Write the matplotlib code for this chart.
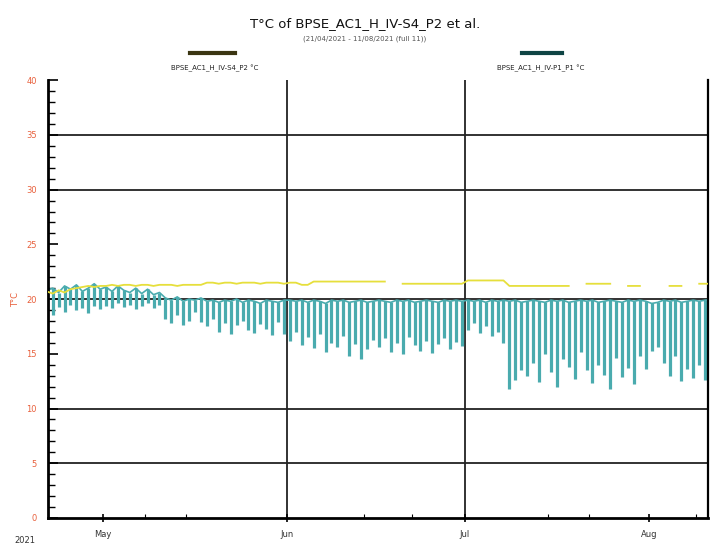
import numpy as np
import pandas as pd
import matplotlib
matplotlib.use("Agg")
import matplotlib.pyplot as plt
from matplotlib.lines import Line2D

# daily values, 21 Apr 2021 -> 11 Aug 2021
jours = pd.date_range("2021-04-21", "2021-08-11", freq="D")

teal_min = [
    19.0, 18.5, 19.3, 18.8, 19.5, 19.0, 19.2, 18.7, 19.4, 19.1,            # Apr 21-30
    19.4, 19.2, 19.6, 19.3, 19.5, 19.1, 19.4, 19.6, 19.2, 19.5,            # May 1-10
    18.2, 17.8, 18.5, 17.6, 18.0, 18.8, 17.9,                              # May 11-17
    17.5, 18.2, 17.0, 17.8, 16.8, 17.6, 18.0, 17.2, 16.9, 17.7, 17.3, 16.7, 17.9, 16.8,  # May 18-31
    16.2, 17.0, 15.8, 16.5, 15.5, 16.8, 15.2, 16.0, 15.6, 16.6, 14.8, 15.9, 14.5, 15.4, 16.3,  # Jun 1-15
    15.6, 16.4, 15.2, 16.0, 15.0, 16.5, 15.8, 15.3, 16.2, 15.1, 15.9, 16.4, 15.4, 16.1, 15.7,  # Jun 16-30
    17.2, 17.8, 16.9, 17.5, 16.6, 17.0, 16.0, 11.8, 12.6, 13.5,            # Jul 1-10
    13.0, 14.2, 12.4, 15.0, 13.3, 12.0, 14.5, 13.8, 12.7, 15.2, 13.5,
    12.3, 14.0, 13.1, 11.8, 14.6, 12.9, 13.7, 12.2, 14.8, 13.6,            # Jul 11-31
    15.3, 15.6, 14.2, 13.0, 14.8, 12.5, 13.6, 12.8, 14.0, 12.6, 13.4,      # Aug 1-11
]
teal_max = [
    20.8, 21.0, 20.6, 21.2, 20.9, 21.3, 20.7, 21.0, 21.4, 20.9,
    21.1, 20.7, 21.2, 20.8, 20.6, 21.0, 20.5, 20.9, 20.4, 20.6,
    20.1, 19.9, 20.2, 19.8, 20.0, 19.9, 20.1,
    19.8, 19.9, 19.7, 19.9, 19.8, 20.0, 19.7, 19.9, 19.8, 19.6, 19.9, 19.8, 19.7, 19.9,
    19.9, 19.8, 19.9, 19.7, 19.9, 19.8, 19.6, 19.9, 19.8, 19.9, 19.7, 19.8, 19.9, 19.7, 19.8,
    19.9, 19.8, 19.7, 19.9, 19.8, 19.9, 19.7, 19.8, 19.9, 19.8, 19.7, 19.9, 19.8, 19.9, 19.8,
    19.9, 19.8, 19.9, 19.7, 19.9, 19.8, 19.9, 19.8, 19.9, 19.7,
    19.8, 19.9, 19.8, 19.7, 19.9, 19.8, 19.9, 19.7, 19.8, 19.9, 19.8,
    19.9, 19.7, 19.8, 19.9, 19.8, 19.7, 19.9, 19.8, 19.9, 19.8,
    19.6, 19.7, 19.9, 19.8, 19.9, 19.7, 19.8, 19.9, 19.8, 19.9, 20.0,
]
jaune = [
    20.7, 20.5, 20.8, 20.6, 20.9, 21.0, 21.1, 21.2, 21.1, 21.2,
    21.2, 21.3, 21.2, 21.3, 21.3, 21.2, 21.3, 21.3, 21.2, 21.3,
    21.3, 21.3, 21.2, 21.3, 21.3, 21.3, 21.3,
    21.5, 21.5, 21.4, 21.5, 21.5, 21.4, 21.5, 21.5, 21.5, 21.4, 21.5, 21.5, 21.5, 21.4,
    21.5, 21.5, 21.3, 21.3, 21.6, 21.6, 21.6, 21.6, 21.6, 21.6, 21.6, 21.6, 21.6, 21.6, 21.6,
    21.6, 21.6, np.nan, np.nan, 21.4, 21.4, 21.4, 21.4, 21.4, 21.4, 21.4, 21.4, 21.4, 21.4, 21.4,
    21.7, 21.7, 21.7, 21.7, 21.7, 21.7, 21.7, 21.2, 21.2, 21.2,
    21.2, 21.2, 21.2, 21.2, 21.2, 21.2, 21.2, 21.2, np.nan, np.nan, 21.4,
    21.4, 21.4, 21.4, 21.4, np.nan, np.nan, 21.2, 21.2, 21.2, np.nan,
    np.nan, np.nan, np.nan, 21.2, 21.2, 21.2, np.nan, np.nan, 21.4, 21.4, 21.4,
]

y_ticks = [0, 5, 10, 15, 20, 25, 30, 35, 40]
y_lignes = [5, 10, 20, 30, 35]
mois = ["2021-05-01", "2021-06-01", "2021-07-01", "2021-08-01"]
mois_noms = ["May", "Jun", "Jul", "Aug"]
petits_ticks = ["2021-05-08", "2021-05-15", "2021-06-14", "2021-06-22",
                "2021-07-15", "2021-07-22", "2021-08-09"]

midi = jours + pd.Timedelta(hours=12)

fig = plt.figure(figsize=(7.23, 5.49), dpi=100)
ax = fig.add_axes([0.0664, 0.0565, 0.913, 0.7975])

for y in y_lignes:
    ax.axhline(y, color="#222222", lw=1.3, zorder=1)
for m in mois[1:3]:
    ax.axvline(pd.Timestamp(m), color="#222222", lw=1.3, zorder=1)

ax.plot(midi, jaune, color="#e6df3c", lw=1.3, zorder=3)
# amplitude journaliere en barres verticales + fine ligne des maxima
ax.vlines(midi, teal_min, teal_max, color="#4aabae", lw=2.3, zorder=2)
ax.plot(midi, teal_max, color="#4aabae", lw=1.2, zorder=2)

ax.set_xlim(pd.Timestamp("2021-04-21 17:00"), pd.Timestamp("2021-08-11 00:00"))
ax.set_ylim(0, 40)

ax.set_yticks(y_ticks)
ax.set_yticks(np.arange(0, 41, 1), minor=True)
ax.tick_params(axis="y", which="major", direction="in", length=7, width=1.2,
               labelsize=6, labelcolor="#e8603c", pad=8)
ax.tick_params(axis="y", which="minor", direction="in", length=5, width=1.0)

ax.set_xticks([pd.Timestamp(m) for m in mois])
ax.set_xticklabels(mois_noms)
ax.set_xticks([pd.Timestamp(d) for d in petits_ticks], minor=True)
ax.tick_params(axis="x", which="major", direction="inout", length=6, width=1.2,
               labelsize=6, labelcolor="#333333", pad=6)
ax.tick_params(axis="x", which="minor", direction="in", length=3, width=0.8)

for s in ["left", "bottom"]:
    ax.spines[s].set_linewidth(2.0)
ax.spines["top"].set_visible(False)
ax.spines["right"].set_linewidth(1.6)

fig.text(0.022, 0.455, "T°C", color="#e8603c", fontsize=6, rotation=90,
         ha="center", va="center")
fig.text(0.035, 0.008, "2021", color="#333333", fontsize=6, ha="center", va="bottom")

fig.text(0.505, 0.958, "T°C of BPSE_AC1_H_IV-S4_P2 et al.", fontsize=9.5,
         ha="center", va="center", color="#111111")
fig.text(0.505, 0.930, "(21/04/2021 - 11/08/2021 (full 11))", fontsize=5,
         ha="center", va="center", color="#555555")

# legende au-dessus du graphique
fig.add_artist(Line2D([0.263, 0.325], [0.903, 0.903], color="#3b3512", lw=3))
fig.text(0.297, 0.876, "BPSE_AC1_H_IV-S4_P2 °C", fontsize=5, ha="center",
         va="center", color="#222222")
fig.add_artist(Line2D([0.722, 0.778], [0.903, 0.903], color="#0e4444", lw=3))
fig.text(0.748, 0.876, "BPSE_AC1_H_IV-P1_P1 °C", fontsize=5, ha="center",
         va="center", color="#222222")

fig.savefig("out.png", dpi=100)
